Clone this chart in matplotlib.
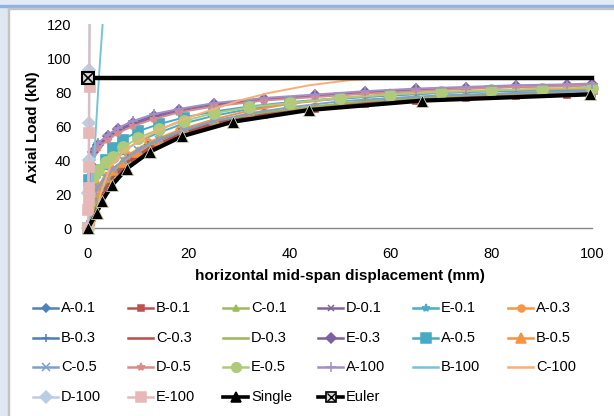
import matplotlib
matplotlib.use("Agg")
import matplotlib.pyplot as plt
from matplotlib.lines import Line2D
from matplotlib.patches import Rectangle
from matplotlib.transforms import Affine2D

plt.rcParams['font.family'] = ['Liberation Sans', 'DejaVu Sans']

# ---------------- data ----------------
x_low = [0, 0.5, 1, 2, 3, 5, 8, 12, 18, 25, 35, 45, 55, 65, 75, 85, 95, 100]
a01 = [0, 4, 8, 15, 21, 30, 39, 47, 55.5, 61.5, 67, 70.5, 73.5, 75.5, 77, 78, 79, 79.5]
b01 = [0, 3.5, 7, 14, 20, 29, 38, 46, 54.5, 61, 66.5, 70, 73, 75, 76.5, 77.5, 78.5, 79]
c01 = [0, 4.5, 9, 16, 22, 31, 40, 48, 56, 62, 67.5, 71, 74, 76, 77.5, 78.5, 79.5, 80]
a03 = [0, 6, 11, 19, 25, 34, 43, 50.5, 57.5, 63, 68, 71.5, 74.5, 76.5, 78, 79, 80, 80.5]
b03 = [0, 5, 9.5, 17, 23, 32, 41, 49, 56.5, 62.5, 67.5, 71, 74, 76, 77.5, 78.5, 79.5, 80]
c03 = [0, 4, 8, 15, 21, 30, 39, 47, 55, 61.5, 67, 70.5, 73.5, 75.5, 77, 78, 79, 79.5]
d03 = [0, 5, 10, 18, 24, 33, 42, 49.5, 57, 63, 68, 71.5, 74.5, 76.5, 78, 79, 80, 80.5]

x_mid = [0, 0.2, 1, 2, 3.5, 5, 7, 10, 14, 19, 25, 32, 40, 50, 60, 70, 80, 90, 100]
e01 = [0, 22, 27, 31, 36, 40, 45, 51, 56, 61.5, 66, 70, 73.5, 76, 78, 79.5, 80.5, 81, 81.5]
a05 = [0, 28, 31, 34, 40, 47, 52, 57, 61, 65, 68.5, 71.5, 74, 76.5, 78, 79.5, 80.5, 81, 81.5]
b05 = [0, 18, 22, 25, 30, 34, 39, 45, 52, 58.5, 64, 69, 73, 76.5, 78.8, 80, 81, 81.5, 82]
c05 = [0, 12, 18, 24, 30, 35, 40, 46, 52, 57.5, 63, 67.5, 71, 74.5, 76.5, 78, 79, 80, 80.5]
e05 = [0, 20, 30, 34, 39, 42, 47.5, 53, 58, 63, 67.5, 71, 73.5, 76.5, 78.5, 80, 81, 82, 82.5]

x_up = [0, 0.3, 0.6, 1, 2, 4, 6, 9, 13, 18, 25, 35, 45, 55, 65, 75, 85, 95, 100]
d01 = [0, 20, 35, 44, 48, 53, 57, 61, 65, 68.5, 72, 75.5, 77.5, 79.5, 81, 82, 83, 83.5, 84]
e03 = [0, 22, 37, 45, 49, 54, 58, 62, 66, 69.5, 73, 76, 78, 80, 81.5, 82.5, 83.5, 84, 84.5]
d05 = [0, 18, 33, 43, 47, 52, 56, 60, 64, 68, 71.5, 75, 77, 79, 80.5, 82, 83, 83.5, 84]
a100 = [0, 25, 40, 46, 50, 55, 59, 63, 67, 70, 73.5, 76.5, 78.5, 80.5, 82, 83, 84, 84.5, 85]

x_b100 = [0, 0.5, 1.0, 1.6, 2.2, 2.9, 3.2]
b100 = [0, 10, 30, 60, 90, 120, 135]
x_c100 = [1, 1.5, 2.5, 4.4, 7, 10, 14, 19, 25, 30, 36, 44, 52, 60, 70, 100]
c100 = [0, 8, 20, 36, 45, 51, 57.5, 64, 70, 75, 79.5, 84, 87, 88, 88, 88]
x_d100 = [0, 0.05, 0.1, 0.15, 0.2, 0.3]
d100 = [0, 20.5, 40, 61.5, 93, 140]
x_e100 = [0, 0.05, 0.1, 0.15, 0.2, 0.25, 0.3, 0.4]
e100 = [0, 10.6, 16.5, 23.5, 36, 56, 83, 140]

x_single = [0, 1.7, 2.8, 4.8, 7.7, 12.3, 18.7, 28.8, 43.9, 66.2, 99.7]
single = [0, 8.8, 16, 25.3, 35, 44.9, 54, 62.5, 69.4, 74.9, 78.6]
x_euler = [0, 100]
euler = [88, 88]

labels = ["A-0.1", "B-0.1", "C-0.1", "D-0.1", "E-0.1", "A-0.3",
          "B-0.3", "C-0.3", "D-0.3", "E-0.3", "A-0.5", "B-0.5",
          "C-0.5", "D-0.5", "E-0.5", "A-100", "B-100", "C-100",
          "D-100", "E-100", "Single", "Euler"]
xs = [x_low, x_low, x_low, x_up, x_mid, x_low,
      x_low, x_low, x_low, x_up, x_mid, x_mid,
      x_mid, x_up, x_mid, x_up, x_b100, x_c100,
      x_d100, x_e100, x_single, x_euler]
ys = [a01, b01, c01, d01, e01, a03,
      b03, c03, d03, e03, a05, b05,
      c05, d05, e05, a100, b100, c100,
      d100, e100, single, euler]
colors = ["#4F81BD", "#C0504D", "#9BBB59", "#8064A2", "#4BACC6", "#F79646",
          "#4A7EBB", "#BE4B48", "#98B954", "#7D60A0", "#46AAC5", "#F69240",
          "#7DA0D0", "#DA8C8A", "#AFCB7A", "#A48FC4", "#78C3D8", "#F9AE74",
          "#B9CDE5", "#E6B9B8", "#000000", "#000000"]
markers = ["D", "s", "^", "x", "*", "o",
           "+", None, None, "D", "s", "^",
           "x", "*", "o", "+", None, None,
           "D", "s", "^", "X"]
msizes = [4, 4.5, 4.5, 5, 6, 5,
          6, 0, 0, 5, 7, 7,
          5.5, 6, 8, 7, 0, 0,
          6, 7, 8, 9]
lwidths = [1.4] * 20 + [3.0, 3.2]

# ---------------- figure ----------------
W, H = 614, 416
fig = plt.figure(figsize=(W / 100, H / 100), dpi=100)
px = Affine2D().scale(1 / W, -1 / H).translate(0, 1) + fig.transFigure

# window-like frame
fig.patches.append(Rectangle((0, 0), W, 5, transform=px, color="#E3EAF4", zorder=-5))
fig.patches.append(Rectangle((0, 4.5), W, 2, transform=px, color="#8DB4E3", zorder=-4))
fig.patches.append(Rectangle((8, 8), W, 1.2, transform=px, color="#C4C4C4", zorder=-4))
fig.patches.append(Rectangle((0, 6), 8, H, transform=px, color="#DFE7F1", zorder=-5))
fig.patches.append(Rectangle((8, 8), 1.2, H, transform=px, color="#C4C4C4", zorder=-4))

ax = fig.add_axes([88 / W, 1 - 228 / H, (592 - 88) / W, (228 - 24) / H])
ax.set_facecolor("none")
clip = Rectangle((-0.06, -0.08), 1.12, 1.08, transform=ax.transAxes)

for i in range(len(labels)):
    mk = markers[i]
    kw = dict(color=colors[i], lw=lwidths[i], zorder=3 + (i >= 20) * 2)
    if mk is not None:
        kw.update(marker=mk, markersize=msizes[i], markerfacecolor=colors[i],
                  markeredgecolor=colors[i], markeredgewidth=1.2)
    if labels[i] == "Single":
        kw.update(markeredgecolor="#D0D8B0", markeredgewidth=0.6)
    if labels[i] == "Euler":
        kw.update(markevery=[0], marker="s", markerfacecolor="#D8D8D8",
                  markeredgecolor="#000000", markeredgewidth=1.5)
    ln, = ax.plot(xs[i], ys[i], **kw)
    ln.set_clip_path(clip)
    if labels[i] == "Euler":
        xm, = ax.plot(xs[i][:1], ys[i][:1], marker="x", color="#000000",
                      markersize=8, markeredgewidth=1.2, lw=0, zorder=6)
        xm.set_clip_path(clip)

ax.set_xlim(0, 100)
ax.set_ylim(0, 120)
ax.set_xticks([0, 20, 40, 60, 80, 100])
ax.set_yticks([0, 20, 40, 60, 80, 100, 120])
ax.tick_params(length=0, labelsize=10.5, colors="#000000")
ax.tick_params(axis="x", pad=14)
ax.tick_params(axis="y", pad=12)
for s in ["top", "right", "left"]:
    ax.spines[s].set_visible(False)
ax.spines["bottom"].set_color("#868686")
ax.spines["bottom"].set_linewidth(1.0)

fig.text(33 / W, 1 - 127 / H, "Axial Load (kN)", fontsize=11, fontweight="bold",
         rotation=90, ha="center", va="center")
fig.text(340 / W, 1 - 276 / H, "horizontal mid-span displacement (mm)",
         fontsize=11, fontweight="bold", ha="center", va="center")

# ---------------- legend (row-wise, Excel style) ----------------
col_x = [33, 128, 223, 318, 413, 508]
row_y = [308, 338, 367, 397]
for i, lab in enumerate(labels):
    r, c = divmod(i, 6)
    x0 = col_x[c]
    y0 = row_y[r]
    lw = 1.8 if i < 20 else 2.6
    fig.add_artist(Line2D([x0, x0 + 25], [y0, y0], transform=px, color=colors[i], lw=lw))
    mk = markers[i]
    if lab == "Euler":
        fig.add_artist(Line2D([x0 + 12.5], [y0], transform=px, marker="s", markersize=7,
                              markerfacecolor="#D8D8D8", markeredgecolor="#000000",
                              markeredgewidth=1.2, lw=0))
        fig.add_artist(Line2D([x0 + 12.5], [y0], transform=px, marker="x", markersize=6,
                              color="#000000", markeredgewidth=1.0, lw=0))
    elif mk is not None:
        fig.add_artist(Line2D([x0 + 12.5], [y0], transform=px, marker=mk,
                              markersize=min(msizes[i], 7), color=colors[i],
                              markeredgewidth=1.1, lw=0))
    fig.text((x0 + 28) / W, 1 - y0 / H, lab, fontsize=10.5, ha="left", va="center")

fig.savefig("out.png", dpi=100, facecolor="white")
